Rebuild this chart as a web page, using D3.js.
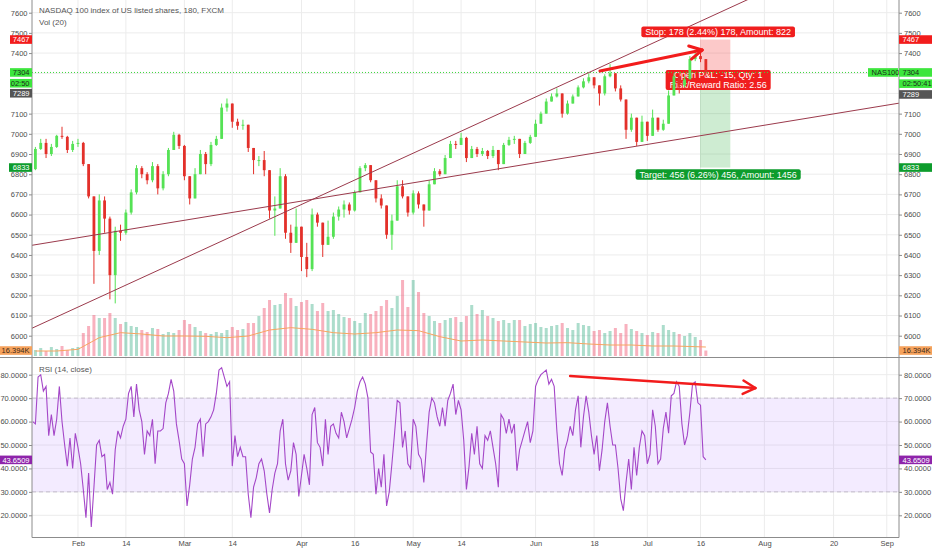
<!DOCTYPE html>
<html>
<head>
<meta charset="utf-8">
<script src="https://cdn.jsdelivr.net/npm/d3@7"></script>
<style>
body { margin: 0; background: #fff; }
svg { display: block; font-family: "Liberation Sans", Arial, sans-serif; }
</style>
</head>
<body>
<script>
var width = 932, height = 550;
var plot = {left: 32, right: 899};
var pane = {priceBottom: 357, rsiTop: 358, rsiBottom: 537.5};

// one candle per trading day, day index 1..127 (Jan 22 .. Jul 17 2018), weekends skipped
var firstDay = 1;
var firstOpen = 6825;
var closes = [
  6925, 6955, 6900, 6935, 6990, 6985, 6920, 6950, 6955, 6850,
  6690, 6420, 6670, 6580, 6300, 6520, 6510, 6610, 6710, 6830,
  6800, 6770, 6840, 6730, 6800, 6920, 6995, 6940, 6790, 6680,
  6800, 6900, 6850, 6945, 6975, 7130, 7150, 7060, 7040, 7045,
  6930, 6870, 6870, 6820, 6620, 6630, 6790, 6510, 6460, 6540,
  6390, 6330, 6600, 6560, 6450, 6490, 6590, 6625, 6650, 6620,
  6710, 6830, 6845, 6770, 6680, 6645, 6500, 6570, 6740, 6690,
  6610, 6705, 6650, 6620, 6750, 6815, 6800, 6880, 6950, 6945,
  6980, 6880, 6925, 6900, 6915, 6890, 6920, 6850, 6945, 6970,
  6975, 6900, 6955, 6985, 7050, 7100, 7160, 7185, 7200, 7100,
  7150, 7185, 7230, 7260, 7280, 7240, 7200, 7285, 7300, 7225,
  7170, 7020, 7080, 6960, 7060, 6990, 7080, 7020, 7050, 7190,
  7285, 7240, 7270, 7370, 7385, 7370, 7304
];
var highs = [
  6935, 6975, 6975, 6950, 6995, 7035, 6990, 6965, 6975, 6960,
  6850, 6690, 6700, 6690, 6590, 6540, 6550, 6625, 6725, 6845,
  6840, 6810, 6860, 6850, 6815, 6930, 7010, 7000, 6945, 6790,
  6830, 6920, 6910, 6960, 6990, 7150, 7175, 7150, 7075, 7070,
  7040, 6930, 6890, 6915, 6800, 6690, 6830, 6800, 6550, 6630,
  6540, 6460, 6630, 6610, 6560, 6570, 6610, 6640, 6670, 6660,
  6720, 6840, 6855, 6845, 6770, 6700, 6645, 6600, 6770, 6770,
  6690, 6720, 6715, 6650, 6770, 6830, 6825, 6895, 6965, 6965,
  7005, 6985, 6940, 6935, 6930, 6920, 6940, 6920, 6955, 6985,
  6990, 6975, 6965, 6995, 7070, 7110, 7175, 7200, 7225, 7200,
  7165, 7195, 7240, 7275, 7300, 7280, 7240, 7295, 7345, 7300,
  7240, 7170, 7100, 7080, 7090, 7060, 7120, 7080, 7070, 7215,
  7300, 7310, 7285, 7385, 7405, 7410, 7370
];
var lows = [
  6820, 6920, 6880, 6890, 6930, 6975, 6905, 6910, 6935, 6840,
  6680, 6257, 6400, 6510, 6180, 6160, 6470, 6500, 6600, 6700,
  6780, 6750, 6760, 6700, 6720, 6790, 6920, 6925, 6770, 6650,
  6680, 6800, 6800, 6840, 6940, 6975, 7110, 7030, 7020, 7020,
  6910, 6800, 6840, 6790, 6580, 6495, 6630, 6480, 6410, 6460,
  6320, 6290, 6320, 6540, 6390, 6450, 6480, 6570, 6585, 6600,
  6615, 6710, 6815, 6760, 6660, 6630, 6480, 6425, 6570, 6680,
  6590, 6600, 6630, 6540, 6630, 6750, 6790, 6800, 6880, 6925,
  6945, 6860, 6880, 6885, 6890, 6875, 6880, 6820, 6850, 6940,
  6950, 6880, 6900, 6950, 6985, 7050, 7100, 7160, 7180, 7080,
  7095, 7150, 7185, 7225, 7250, 7225, 7140, 7190, 7280, 7210,
  7160, 6975, 7010, 6940, 6960, 6965, 6990, 7010, 7015, 7050,
  7190, 7200, 7230, 7270, 7360, 7355, 7285
];

// volume per day, thousands
var volumes = [
  18, 24, 15, 27, 21, 30, 18, 24, 27, 69,
  90, 123, 114, 114, 129, 114, 96, 102, 90, 87,
  78, 72, 84, 81, 66, 72, 69, 78, 108, 96,
  87, 75, 69, 66, 72, 69, 78, 87, 78, 81,
  99, 99, 120, 144, 168, 153, 156, 189, 174, 150,
  162, 168, 156, 135, 159, 135, 138, 126, 117, 114,
  105, 99, 129, 126, 135, 150, 168, 144, 180, 228,
  147, 228, 192, 129, 120, 105, 99, 108, 114, 117,
  102, 120, 153, 126, 138, 120, 114, 105, 108, 99,
  108, 108, 90, 96, 99, 87, 84, 90, 93, 99,
  84, 78, 99, 93, 90, 75, 78, 69, 75, 84,
  69, 96, 81, 75, 69, 63, 72, 69, 93, 78,
  72, 66, 60, 69, 57, 48, 16.394
];
var volMaDays = [1, 5, 9, 13, 17, 21, 25, 29, 33, 37, 41, 45, 49, 53, 57, 61,
                 65, 69, 73, 77, 81, 85, 89, 93, 97, 101, 105, 109, 113, 117, 121, 125, 127];
var volMaValues = [15, 15, 20, 55, 70, 66, 60, 60, 59, 55, 60, 78, 85, 80, 70, 66,
                   70, 78, 76, 58, 45, 48, 45, 42, 39, 40, 36, 33, 33, 30, 30, 28, 27];

// RSI(14) read every half trading day from day 0.5
var rsiStart = 0.5, rsiStep = 0.5;
var rsiValues = [
  60, 59, 79, 80, 73, 75, 54, 63, 54, 61,
  75, 60, 50, 41, 53, 40, 55, 49, 42, 31,
  19, 38, 15, 32, 50, 52, 45, 46, 31, 34,
  29, 48, 56, 53, 58, 61, 72, 75, 62, 76,
  65, 60, 46, 56, 54, 61, 42, 56, 56, 57,
  68, 72, 78, 73, 59, 52, 44, 42, 24, 33,
  44, 49, 59, 61, 45, 59, 60, 62, 65, 72,
  82, 83, 79, 75, 77, 41, 54, 45, 49, 45,
  45, 29, 19, 32, 36, 42, 44, 39, 29, 21,
  31, 38, 42, 56, 61, 42, 35, 39, 51, 46,
  28, 37, 46, 40, 33, 63, 66, 51, 49, 41,
  61, 46, 58, 59, 55, 53, 64, 60, 53, 57,
  61, 66, 73, 77, 79, 76, 70, 47, 46, 29,
  40, 32, 46, 24, 30, 42, 55, 69, 68, 49,
  56, 42, 40, 61, 58, 46, 44, 34, 50, 64,
  70, 68, 62, 58, 66, 58, 69, 72, 76, 63,
  69, 65, 52, 31, 41, 55, 46, 58, 42, 40,
  54, 52, 56, 49, 42, 32, 63, 61, 55, 61,
  55, 59, 39, 48, 52, 56, 60, 51, 56, 75,
  78, 80, 81, 82, 76, 78, 75, 56, 42, 37,
  48, 52, 58, 54, 65, 71, 49, 62, 71, 64,
  54, 46, 54, 39, 48, 60, 68, 58, 50, 50,
  40, 27, 22, 34, 44, 31, 49, 37, 49, 56,
  54, 42, 46, 65, 58, 42, 44, 57, 64, 55,
  71, 72, 77, 75, 59, 50, 54, 64, 76, 77,
  68, 67, 45, 43.6509
];

// axis ticks (7200 and 7300 labels sit under the price tags, so they are not printed)
var priceTicks = [6000, 6100, 6200, 6300, 6400, 6500, 6600, 6700, 6800,
                  6900, 7000, 7100, 7200, 7300, 7400, 7500, 7600];
var priceTickLabels = [6000, 6100, 6200, 6300, 6400, 6500, 6600, 6700, 6800,
                       6900, 7000, 7100, 7400, 7500, 7600];
var rsiTicks = [20, 30, 40, 50, 60, 70, 80];
var dateTickDays = [9, 18, 29, 38, 51, 61, 72, 81, 95, 106, 116, 126, 138, 151, 161];
var dateTickLabels = ["Feb", "14", "Mar", "14", "Apr", "16", "May", "14", "Jun",
                      "18", "Jul", "16", "Aug", "20", "Sep"];

// drawings: trend lines [day, price], arrows, short position tool
var trendUpper = [[0.6, 6040], [104.3, 7295]];
var trendLower = [[0.6, 6449], [163.1, 7151]];
var priceArrow = [[107.1, 7311], [126.3, 7415]];
var rsiArrow = [[101.5, 79.4], [136.3, 74.3]];
var tradeDays = [125.9, 131.6];
var tradeStop = 7467, tradeEntry = 7289, tradeTarget = 6833;
var lastPrice = 7304;

//scales
var xScale = d3.scaleLinear()
               .domain([0.36, 163.3])
               .range([plot.left, plot.right]);

var yPrice = d3.scaleLinear()
               .domain([6000, 7600])
               .range([335.7, 12.7]);

var yVol = d3.scaleLinear()
             .domain([0, 180])
             .range([356, 296]);

var yRsi = d3.scaleLinear()
             .domain([20, 80])
             .range([515.3, 374.7]);

var svg = d3.select("body")
            .append("svg")
            .attr("width", width)
            .attr("height", height);

svg.append("defs").append("clipPath")
   .attr("id", "priceClip")
   .append("rect")
   .attr("x", plot.left).attr("y", 0)
   .attr("width", plot.right - plot.left).attr("height", pane.priceBottom);

var gridColor = "#ececec";

//grid lines
svg.append("g").selectAll("line")
   .data(dateTickDays)
   .enter().append("line")
   .attr("x1", function(d){ return xScale(d); })
   .attr("x2", function(d){ return xScale(d); })
   .attr("y1", 0).attr("y2", pane.rsiBottom)
   .attr("stroke", gridColor);

svg.append("g").selectAll("line")
   .data(priceTicks)
   .enter().append("line")
   .attr("x1", plot.left).attr("x2", plot.right)
   .attr("y1", function(d){ return yPrice(d); })
   .attr("y2", function(d){ return yPrice(d); })
   .attr("stroke", gridColor);

svg.append("g").selectAll("line")
   .data(rsiTicks)
   .enter().append("line")
   .attr("x1", plot.left).attr("x2", plot.right)
   .attr("y1", function(d){ return yRsi(d); })
   .attr("y2", function(d){ return yRsi(d); })
   .attr("stroke", gridColor);

//RSI band 30-70
svg.append("rect")
   .attr("x", plot.left).attr("y", yRsi(70))
   .attr("width", plot.right - plot.left)
   .attr("height", yRsi(30) - yRsi(70))
   .attr("fill", "rgba(160,90,255,0.12)");

[30, 70].forEach(function(level){
    svg.append("line")
       .attr("x1", plot.left).attr("x2", plot.right)
       .attr("y1", yRsi(level)).attr("y2", yRsi(level))
       .attr("stroke", "#c4bccc")
       .attr("stroke-dasharray", "4,3");
});

//candles data
var candles = closes.map(function(c, i){
    var o = i == 0 ? firstOpen : closes[i - 1];
    return {day: firstDay + i, open: o, close: c,
            high: Math.max(highs[i], o, c), low: Math.min(lows[i], o, c),
            vol: volumes[i]};
});

var upColor = "#55e255", downColor = "#e3302a";

//volume bars
svg.append("g").selectAll("rect")
   .data(candles)
   .enter().append("rect")
   .attr("x", function(d){ return xScale(d.day) - 1.5; })
   .attr("width", 3)
   .attr("y", function(d){ return yVol(d.vol); })
   .attr("height", function(d){ return yVol(0) - yVol(d.vol); })
   .attr("fill", function(d){ return d.close >= d.open ? "rgba(38,166,120,0.38)" : "rgba(239,70,100,0.42)"; });

var volMaLine = d3.line()
                  .x(function(d){ return xScale(d[0]); })
                  .y(function(d){ return yVol(d[1]); });

svg.append("path")
   .datum(volMaDays.map(function(d, i){ return [d, volMaValues[i]]; }))
   .attr("d", volMaLine)
   .attr("fill", "none")
   .attr("stroke", "#f8a460")
   .attr("stroke-width", 1);

//short position tool
var tradeX0 = xScale(tradeDays[0]), tradeX1 = xScale(tradeDays[1]);
var tradeMid = (tradeX0 + tradeX1) / 2 + 3;

svg.append("rect")
   .attr("x", tradeX0).attr("width", tradeX1 - tradeX0)
   .attr("y", yPrice(tradeStop))
   .attr("height", yPrice(tradeEntry) - yPrice(tradeStop))
   .attr("fill", "rgba(245,40,40,0.25)");

svg.append("rect")
   .attr("x", tradeX0).attr("width", tradeX1 - tradeX0)
   .attr("y", yPrice(tradeEntry))
   .attr("height", yPrice(tradeTarget) - yPrice(tradeEntry))
   .attr("fill", "rgba(30,170,50,0.22)");

function tradeLabel(lines, top, fill){
    var g = svg.append("g");
    var rect = g.append("rect");
    var maxW = 0;
    lines.forEach(function(t, i){
        var txt = g.append("text")
                   .attr("x", tradeMid)
                   .attr("y", top + 5.3 + i * 9.4)
                   .attr("dy", "0.35em")
                   .attr("text-anchor", "middle")
                   .attr("font-size", 9)
                   .attr("fill", "#fff")
                   .text(t);
        maxW = Math.max(maxW, txt.node().getComputedTextLength());
    });
    rect.attr("x", tradeMid - maxW / 2 - 4)
        .attr("y", top)
        .attr("width", maxW + 8)
        .attr("height", 10.6 + (lines.length - 1) * 9.4)
        .attr("rx", 2)
        .attr("fill", fill);
}

// the P&L label sits under the candles, as in the platform
tradeLabel(["Open P&L: -15, Qty: 1", "Risk/Reward Ratio: 2.56"], yPrice(tradeEntry) - 5.5, "#f01e1e");

//last price dotted line
svg.append("line")
   .attr("x1", plot.left).attr("x2", plot.right)
   .attr("y1", yPrice(lastPrice)).attr("y2", yPrice(lastPrice))
   .attr("stroke", "#3ad83a")
   .attr("stroke-dasharray", "1,2");

//candles
var candleG = svg.append("g");
candleG.selectAll("line")
       .data(candles)
       .enter().append("line")
       .attr("x1", function(d){ return xScale(d.day); })
       .attr("x2", function(d){ return xScale(d.day); })
       .attr("y1", function(d){ return yPrice(d.high); })
       .attr("y2", function(d){ return yPrice(d.low); })
       .attr("stroke", function(d){ return d.close >= d.open ? upColor : downColor; })
       .attr("stroke-width", 1);

candleG.selectAll("rect")
       .data(candles)
       .enter().append("rect")
       .attr("x", function(d){ return xScale(d.day) - 1.4; })
       .attr("width", 2.8)
       .attr("y", function(d){ return yPrice(Math.max(d.open, d.close)); })
       .attr("height", function(d){ return Math.max(1, Math.abs(yPrice(d.open) - yPrice(d.close))); })
       .attr("fill", function(d){ return d.close >= d.open ? upColor : downColor; });

//trend lines, extended to the pane edges
function extendLine(pts){
    var slope = (pts[1][1] - pts[0][1]) / (pts[1][0] - pts[0][0]);
    var d0 = xScale.domain()[0], d1 = xScale.domain()[1];
    return [[d0, pts[0][1] + slope * (d0 - pts[0][0])],
            [d1, pts[0][1] + slope * (d1 - pts[0][0])]];
}

var trendG = svg.append("g").attr("clip-path", "url(#priceClip)");
[trendUpper, trendLower].forEach(function(pts){
    var ext = extendLine(pts);
    trendG.append("line")
          .attr("x1", xScale(ext[0][0])).attr("y1", yPrice(ext[0][1]))
          .attr("x2", xScale(ext[1][0])).attr("y2", yPrice(ext[1][1]))
          .attr("stroke", "#9b3a4c")
          .attr("stroke-width", 1);
});

// stop and target labels lie above the trend lines
tradeLabel(["Stop: 178 (2.44%) 178, Amount: 822"], yPrice(tradeStop) - 13, "#f01e1e");
tradeLabel(["Target: 456 (6.26%) 456, Amount: 1456"], yPrice(tradeTarget) + 1.7, "#0d9c2c");

//red arrows
function drawArrow(p0, p1, sw){
    var g = svg.append("g")
               .attr("stroke", "#f21c1c")
               .attr("stroke-width", sw)
               .attr("stroke-linecap", "round")
               .attr("fill", "none");
    g.append("line").attr("x1", p0[0]).attr("y1", p0[1]).attr("x2", p1[0]).attr("y2", p1[1]);
    var ang = Math.atan2(p1[1] - p0[1], p1[0] - p0[0]);
    [-0.5, 0.5].forEach(function(a){
        g.append("line")
         .attr("x1", p1[0]).attr("y1", p1[1])
         .attr("x2", p1[0] - 14 * Math.cos(ang + a))
         .attr("y2", p1[1] - 14 * Math.sin(ang + a));
    });
}

drawArrow([xScale(priceArrow[0][0]), yPrice(priceArrow[0][1])],
          [xScale(priceArrow[1][0]), yPrice(priceArrow[1][1])], 3);

//RSI line
var rsiLine = d3.line()
                .x(function(d, i){ return xScale(rsiStart + i * rsiStep); })
                .y(function(d){ return yRsi(d); });

svg.append("path")
   .datum(rsiValues)
   .attr("d", rsiLine)
   .attr("fill", "none")
   .attr("stroke", "#a447c8")
   .attr("stroke-width", 1.1);

drawArrow([xScale(rsiArrow[0][0]), yRsi(rsiArrow[0][1])],
          [xScale(rsiArrow[1][0]), yRsi(rsiArrow[1][1])], 2.5);

//frame lines
var frame = svg.append("g").attr("stroke", "#8c8c8c").attr("stroke-width", 1);
frame.append("line").attr("x1", plot.left).attr("x2", plot.left).attr("y1", 0).attr("y2", pane.rsiBottom);
frame.append("line").attr("x1", plot.right).attr("x2", plot.right).attr("y1", 0).attr("y2", pane.rsiBottom);
frame.append("line").attr("x1", 0).attr("x2", width).attr("y1", pane.priceBottom + 0.5).attr("y2", pane.priceBottom + 0.5);
frame.append("line").attr("x1", plot.left).attr("x2", plot.right).attr("y1", pane.rsiBottom).attr("y2", pane.rsiBottom);

//axes
var fmtPrice = d3.format("d");
var fmtRsi = d3.format(".4f");

function styleAxis(g){
    g.select(".domain").remove();
    g.selectAll(".tick line").attr("stroke", "#8c8c8c");
    g.selectAll(".tick text").attr("fill", "#4d4d4d").attr("font-size", 7.5)
     .attr("font-family", "Liberation Sans, Arial, sans-serif");
}

svg.append("g")
   .attr("transform", "translate(" + plot.left + ",0)")
   .call(d3.axisLeft(yPrice).tickValues(priceTickLabels).tickFormat(fmtPrice).tickSize(3).tickPadding(1.5))
   .call(styleAxis);

svg.append("g")
   .attr("transform", "translate(" + plot.right + ",0)")
   .call(d3.axisRight(yPrice).tickValues(priceTickLabels).tickFormat(fmtPrice).tickSize(3).tickPadding(2))
   .call(styleAxis);

svg.append("g")
   .attr("transform", "translate(" + plot.left + ",0)")
   .call(d3.axisLeft(yRsi).tickValues(rsiTicks).tickFormat(fmtRsi).tickSize(3).tickPadding(1.5))
   .call(styleAxis);

svg.append("g")
   .attr("transform", "translate(" + plot.right + ",0)")
   .call(d3.axisRight(yRsi).tickValues(rsiTicks).tickFormat(fmtRsi).tickSize(3).tickPadding(2))
   .call(styleAxis);

svg.append("g")
   .attr("transform", "translate(0," + pane.rsiBottom + ")")
   .call(d3.axisBottom(xScale).tickValues(dateTickDays)
           .tickFormat(function(d, i){ return dateTickLabels[i]; })
           .tickSize(0).tickPadding(3.5))
   .call(styleAxis);

//price scale tags
function tag(x, w, yc, text, fill, color, align){
    svg.append("rect")
       .attr("x", x).attr("y", yc - 4.3)
       .attr("width", w).attr("height", 8.6)
       .attr("fill", fill);
    svg.append("text")
       .attr("x", align == "end" ? x + w - 2.5 : x + 3.5)
       .attr("y", yc)
       .attr("dy", "0.35em")
       .attr("text-anchor", align)
       .attr("font-size", 7.5)
       .attr("fill", color)
       .text(text);
}

var green = "#3de63d", red = "#f21c1c", entryGray = "#555555";
var yLast = yPrice(lastPrice);

tag(10, 22, yPrice(tradeStop), "7467", red, "#fff", "end");
tag(10, 22, yLast, "7304", green, "#1c2e1c", "end");
tag(10, 22, yLast + 10.8, "02:50", green, "#1c2e1c", "end");
tag(10, 22, yLast + 20.8, "7289", entryGray, "#fff", "end");
tag(9, 23, yPrice(tradeTarget), "6833", "#0d9c2c", "#fff", "end");
tag(0, 32, yVol(16.394), "16.394K", "#f6a25c", "#3a2a1a", "end");
tag(0, 32, yRsi(43.6509), "43.6509", "#8e24aa", "#fff", "end");

tag(plot.right - 31, 30, yLast, "NAS100", green, "#1c2e1c", "start");
tag(plot.right, 33, yLast, "7304", green, "#1c2e1c", "start");
tag(plot.right, 33, yPrice(tradeStop), "7467", red, "#fff", "start");
tag(plot.right, 33, yLast + 11.2, "02:50:41", green, "#1c2e1c", "start");
tag(plot.right, 33, yLast + 22, "7289", entryGray, "#fff", "start");
tag(plot.right, 33, yPrice(tradeTarget), "6833", "#0d9c2c", "#fff", "start");
tag(plot.right, 33, yVol(16.394), "16.394K", "#f6a25c", "#3a2a1a", "start");
tag(plot.right, 33, yRsi(43.6509), "43.6509", "#8e24aa", "#fff", "start");

//pane titles
svg.append("text")
   .attr("x", 39).attr("y", 13)
   .attr("font-size", 8).attr("fill", "#555")
   .text("NASDAQ 100 index of US listed shares, 180, FXCM");

svg.append("text")
   .attr("x", 39).attr("y", 24.5)
   .attr("font-size", 8).attr("fill", "#555")
   .text("Vol (20)");

svg.append("text")
   .attr("x", 39).attr("y", 372)
   .attr("font-size", 8).attr("fill", "#555")
   .text("RSI (14, close)");
</script>
</body>
</html>
